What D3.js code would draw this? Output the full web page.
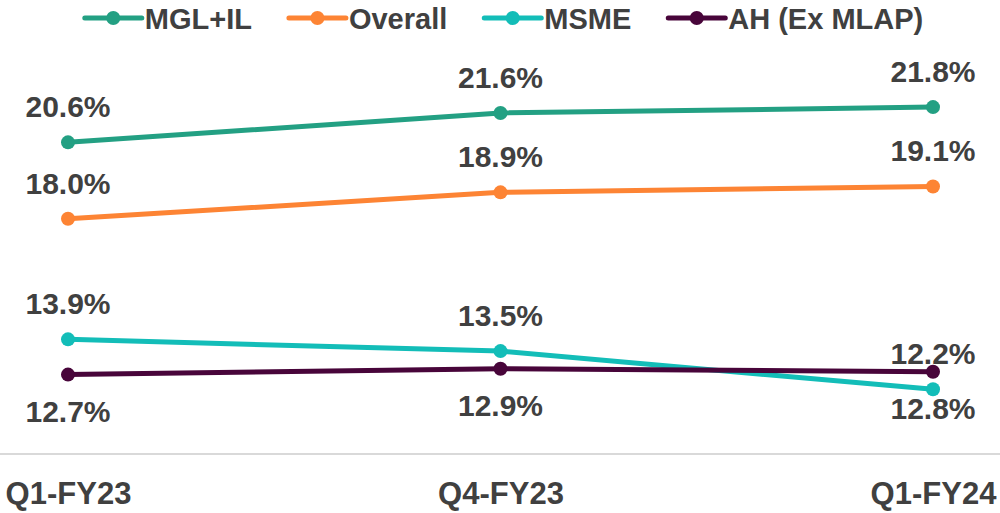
<!DOCTYPE html>
<html><head><meta charset="utf-8">
<script src="https://cdn.jsdelivr.net/npm/d3@7"></script>
<style>html,body{margin:0;padding:0;background:#fff;}svg{display:block;}</style>
</head><body>
<svg id="chart" width="1000" height="513"></svg>
<script>
const categories = ["Q1-FY23", "Q4-FY23", "Q1-FY24"];
const seriesNames = ["MGL+IL", "Overall", "MSME", "AH (Ex MLAP)"];
const mglIL = [20.6, 21.6, 21.8];
const overall = [18.0, 18.9, 19.1];
const msme = [13.9, 13.5, 12.2];
const ahExMlap = [12.7, 12.9, 12.8];
const labelPos = ["above", "above", "above", "below"];
const colors = ["#23a083", "#fd8434", "#13bdb8", "#48053a"];

const series = [mglIL, overall, msme, ahExMlap].map((vals, i) => ({
  name: seriesNames[i], values: vals, color: colors[i], pos: labelPos[i]
}));

const svg = d3.select("#chart");
const font = "'Liberation Sans', Arial, sans-serif";
const textColor = "#404040";

const x = d3.scalePoint().domain(categories).range([68, 933]);
const y = d3.scaleLinear().domain([10, 25]).range([454, 13]);

// baseline gridline
svg.append("line").attr("x1", 0).attr("x2", 1000)
  .attr("y1", y(10)).attr("y2", y(10))
  .attr("stroke", "#d9d9d9").attr("stroke-width", 2);

// x axis labels
const xAxis = d3.axisBottom(x).tickSize(0).tickPadding(0);
const xg = svg.append("g").attr("transform", `translate(0,${y(10)})`).call(xAxis);
xg.select(".domain").remove();
xg.selectAll("text")
  .attr("y", 50).attr("dy", 0)
  .attr("font-family", font).attr("font-weight", "bold")
  .attr("font-size", 31).attr("fill", textColor);

const line = d3.line().x((d, i) => x(categories[i])).y(d => y(d));

series.forEach(s => {
  const g = svg.append("g");
  g.append("path").datum(s.values).attr("d", line)
    .attr("fill", "none").attr("stroke", s.color).attr("stroke-width", 5)
    .attr("stroke-linejoin", "round");
  g.selectAll("circle").data(s.values).join("circle")
    .attr("cx", (d, i) => x(categories[i])).attr("cy", d => y(d))
    .attr("r", 7).attr("fill", s.color);
  g.selectAll("text").data(s.values).join("text")
    .attr("x", (d, i) => x(categories[i]))
    .attr("y", d => s.pos === "above" ? y(d) - 25 : y(d) + 47)
    .attr("text-anchor", "middle")
    .attr("font-family", font).attr("font-weight", "bold")
    .attr("font-size", 30).attr("fill", textColor)
    .text(d => d.toFixed(1) + "%");
});

// legend
const legend = svg.append("g");
const items = legend.selectAll("g").data(series).join("g");
items.append("text").attr("class", "lt")
  .attr("font-family", font).attr("font-weight", "bold")
  .attr("font-size", 29).attr("fill", textColor)
  .attr("y", 29).text(d => d.name);
let cx = 0;
const sampleW = 57, gapT = 3, gapI = 37;
items.each(function(d) {
  const gi = d3.select(this);
  const w = gi.select("text").node().getComputedTextLength();
  gi.append("line").attr("x1", cx).attr("x2", cx + sampleW)
    .attr("y1", 18).attr("y2", 18)
    .attr("stroke", d.color).attr("stroke-width", 5).attr("stroke-linecap", "round");
  gi.append("circle").attr("cx", cx + sampleW / 2).attr("cy", 18).attr("r", 7).attr("fill", d.color);
  gi.select("text").attr("x", cx + sampleW + gapT);
  cx += sampleW + gapT + w + gapI;
});
const totalW = cx - gapI;
legend.attr("transform", `translate(${504 - totalW / 2},0)`);
</script>
</body></html>
